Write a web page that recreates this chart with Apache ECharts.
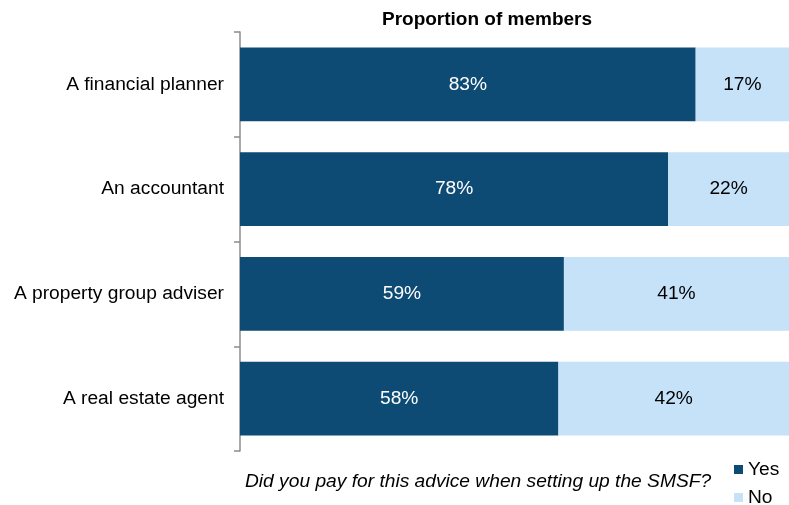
<!DOCTYPE html>
<html>
<head>
<meta charset="utf-8">
<script src="https://cdn.jsdelivr.net/npm/echarts@6/dist/echarts.min.js"></script>
<style>
  html, body { margin: 0; padding: 0; background: #fff; }
  #chart { width: 789px; height: 505px; }
</style>
</head>
<body>
<div id="chart"></div>
<script>
// Advisers consulted when setting up the fund, top to bottom
var categories = ['A financial planner', 'An accountant', 'A property group adviser', 'A real estate agent'];
// Share of members who paid for the advice (%)
var yesValues = [83, 78, 59, 58];
// Share of members who did not pay (%)
var noValues = [17, 22, 41, 42];

var chart = echarts.init(document.getElementById('chart'), null, { renderer: 'canvas' });

var FONT = 'Liberation Sans, Arial, sans-serif';
var SIZE = 19.2;

var legendText = { fontSize: SIZE, color: '#000', fontFamily: FONT };

chart.setOption({
  animation: false,
  textStyle: { fontFamily: FONT },
  title: {
    text: 'Proportion of members',
    left: 482,
    textAlign: 'center',
    top: 5,
    textStyle: { fontSize: 19, fontWeight: 'bold', color: '#000', fontFamily: FONT }
  },
  graphic: [{
    type: 'text',
    left: 245,
    top: 472,
    style: {
      text: 'Did you pay for this advice when setting up the SMSF?',
      font: 'italic ' + SIZE + 'px ' + FONT,
      fill: '#000'
    }
  }],
  legend: [
    {
      left: 729,
      top: 455,
      itemWidth: 9,
      itemHeight: 9,
      itemGap: 4,
      icon: 'rect',
      textStyle: legendText,
      data: ['Yes']
    },
    {
      left: 729,
      top: 483,
      itemWidth: 9,
      itemHeight: 9,
      itemGap: 4,
      icon: 'rect',
      textStyle: legendText,
      data: ['No']
    }
  ],
  grid: { left: 240, top: 32, width: 552, height: 419, containLabel: false },
  xAxis: {
    type: 'value',
    min: 0,
    max: 100,
    show: false
  },
  yAxis: {
    type: 'category',
    inverse: true,
    data: categories,
    axisLine: { show: true, lineStyle: { color: '#8c8c8c', width: 1.5 } },
    axisTick: { show: true, length: 6, lineStyle: { color: '#8c8c8c', width: 1.5 } },
    axisLabel: { color: '#000', fontSize: SIZE, margin: 16, fontFamily: FONT }
  },
  series: [
    {
      name: 'Yes',
      type: 'bar',
      stack: 'total',
      barWidth: '70.5%',
      data: yesValues,
      itemStyle: { color: '#0d4a74' },
      label: {
        show: true,
        position: 'inside',
        formatter: '{c}%',
        color: '#fff',
        fontSize: SIZE,
        fontFamily: FONT
      }
    },
    {
      name: 'No',
      type: 'bar',
      stack: 'total',
      barWidth: '70.5%',
      data: noValues,
      itemStyle: { color: '#c5e2f8' },
      label: {
        show: true,
        position: 'inside',
        formatter: '{c}%',
        color: '#000',
        fontSize: SIZE,
        fontFamily: FONT
      }
    }
  ]
});
</script>
</body>
</html>
